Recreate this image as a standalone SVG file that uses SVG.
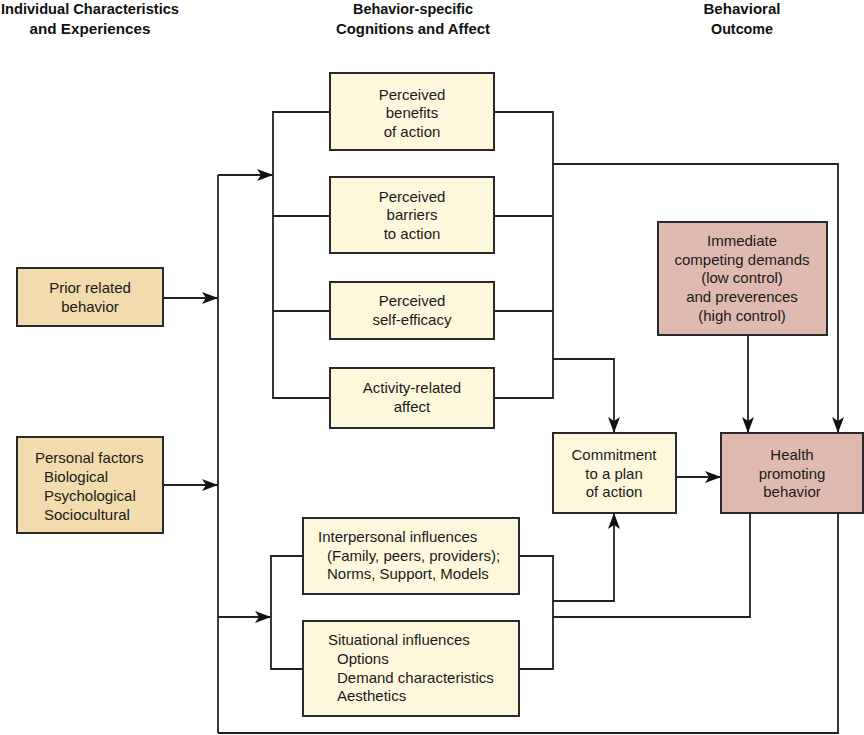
<svg xmlns="http://www.w3.org/2000/svg" width="864" height="735" viewBox="0 0 864 735">
<style>
.hdr{font-family:"Liberation Sans",Arial,sans-serif;font-weight:bold;font-size:15px;fill:#111;text-anchor:middle}
.t{font-family:"Liberation Sans",Arial,sans-serif;font-size:15px;fill:#1a1a1a}
.c{text-anchor:middle}
.box{stroke:#2a2a2a;stroke-width:2}
.cream{fill:#fdf8dc}
.tan{fill:#f2dbac}
.pink{fill:#dfbaae}
.ln{fill:none;stroke:#222;stroke-width:1.8}
</style>
<defs>
<marker id="ah" markerWidth="18" markerHeight="12" refX="16" refY="6" orient="auto" markerUnits="userSpaceOnUse">
<path d="M0,0 L16,6 L0,12 L4,6 z" fill="#111"/>
</marker>
</defs>
<rect width="864" height="735" fill="#fff"/>
<g id="headers">
<text class="hdr" x="90" y="14" textLength="178" lengthAdjust="spacingAndGlyphs">Individual Characteristics</text>
<text class="hdr" x="90" y="34" textLength="121" lengthAdjust="spacingAndGlyphs">and Experiences</text>
<text class="hdr" x="413" y="14" textLength="120" lengthAdjust="spacingAndGlyphs">Behavior-specific</text>
<text class="hdr" x="413" y="34" textLength="154" lengthAdjust="spacingAndGlyphs">Cognitions and Affect</text>
<text class="hdr" x="742" y="14" textLength="77" lengthAdjust="spacingAndGlyphs">Behavioral</text>
<text class="hdr" x="742" y="34" textLength="62" lengthAdjust="spacingAndGlyphs">Outcome</text>
</g>
<g id="connectors">
<path class="ln" d="M163,298 H218" marker-end="url(#ah)"/>
<path class="ln" d="M163,485 H218" marker-end="url(#ah)"/>
<path class="ln" d="M218,175 V733"/>
<path class="ln" d="M218,175 H273" marker-end="url(#ah)"/>
<path class="ln" d="M218,617 H271" marker-end="url(#ah)"/>
<path class="ln" d="M330,112 H273 V398 H330 M273,216 H330 M273,311 H330"/>
<path class="ln" d="M494,112 H553 V398 H494 M494,216 H553 M494,311 H553"/>
<path class="ln" d="M553,164 H838 V433" marker-end="url(#ah)"/>
<path class="ln" d="M553,359 H614 V433" marker-end="url(#ah)"/>
<path class="ln" d="M748,335 V433" marker-end="url(#ah)"/>
<path class="ln" d="M676,477 H721" marker-end="url(#ah)"/>
<path class="ln" d="M303,556 H271 V669 H303"/>
<path class="ln" d="M519,556 H553 V669 H519"/>
<path class="ln" d="M553,601 H614 V513" marker-end="url(#ah)"/>
<path class="ln" d="M553,617 H750 V513"/>
<path class="ln" d="M838,513 V733 H218"/>
</g>
<g id="prior">
<rect class="box tan" x="17" y="268" width="146" height="58"/>
<text class="t c" x="90" y="293">Prior related</text>
<text class="t c" x="90" y="312">behavior</text>
</g>
<g id="personal">
<rect class="box tan" x="17" y="437" width="146" height="96"/>
<text class="t" x="35" y="463">Personal factors</text>
<text class="t" x="44" y="482">Biological</text>
<text class="t" x="44" y="501">Psychological</text>
<text class="t" x="44" y="520">Sociocultural</text>
</g>
<g id="benefits">
<rect class="box cream" x="330" y="73" width="164" height="77"/>
<text class="t c" x="412" y="100">Perceived</text>
<text class="t c" x="412" y="118">benefits</text>
<text class="t c" x="412" y="137">of action</text>
</g>
<g id="barriers">
<rect class="box cream" x="330" y="177" width="164" height="76"/>
<text class="t c" x="412" y="202">Perceived</text>
<text class="t c" x="412" y="220">barriers</text>
<text class="t c" x="412" y="239">to action</text>
</g>
<g id="efficacy">
<rect class="box cream" x="330" y="282" width="164" height="57"/>
<text class="t c" x="412" y="306">Perceived</text>
<text class="t c" x="412" y="325">self-efficacy</text>
</g>
<g id="affect">
<rect class="box cream" x="330" y="368" width="164" height="60"/>
<text class="t c" x="412" y="393">Activity-related</text>
<text class="t c" x="412" y="412">affect</text>
</g>
<g id="immediate">
<rect class="box pink" x="658" y="222" width="169" height="113"/>
<text class="t c" x="742" y="246">Immediate</text>
<text class="t c" x="742" y="265">competing demands</text>
<text class="t c" x="742" y="283">(low control)</text>
<text class="t c" x="742" y="302">and preverences</text>
<text class="t c" x="742" y="321">(high control)</text>
</g>
<g id="commitment">
<rect class="box cream" x="553" y="433" width="123" height="80"/>
<text class="t c" x="614" y="460">Commitment</text>
<text class="t c" x="614" y="479">to a plan</text>
<text class="t c" x="614" y="497">of action</text>
</g>
<g id="health">
<rect class="box pink" x="721" y="433" width="142" height="80"/>
<text class="t c" x="792" y="460">Health</text>
<text class="t c" x="792" y="479">promoting</text>
<text class="t c" x="792" y="497">behavior</text>
</g>
<g id="interpersonal">
<rect class="box cream" x="303" y="518" width="216" height="76"/>
<text class="t" x="318" y="542">Interpersonal influences</text>
<text class="t" x="327" y="561">(Family, peers, providers);</text>
<text class="t" x="327" y="579">Norms, Support, Models</text>
</g>
<g id="situational">
<rect class="box cream" x="303" y="621" width="216" height="95"/>
<text class="t" x="328" y="645">Situational influences</text>
<text class="t" x="337" y="664">Options</text>
<text class="t" x="337" y="683">Demand characteristics</text>
<text class="t" x="337" y="701">Aesthetics</text>
</g>
</svg>
